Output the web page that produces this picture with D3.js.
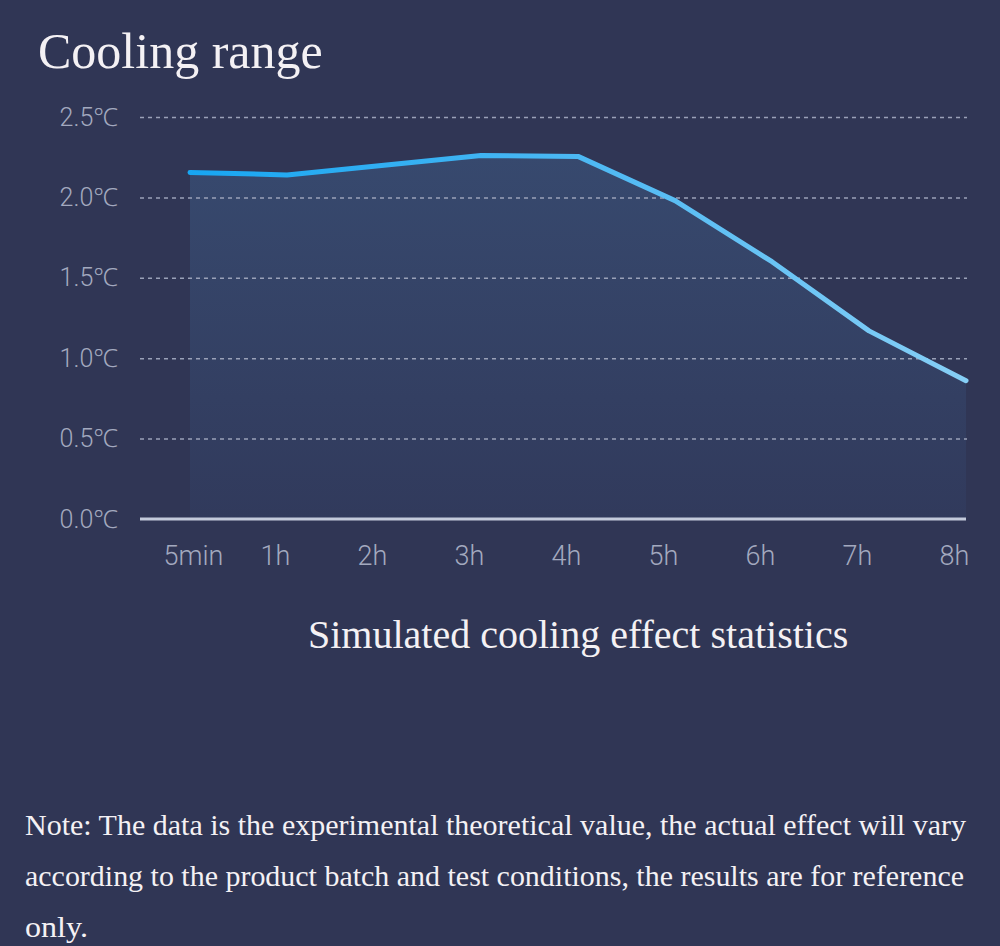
<!DOCTYPE html>
<html lang="en">
  <head>
    <meta charset="UTF-8" />
    <title>Cooling range</title>
    <script src="https://cdn.jsdelivr.net/npm/d3@7"></script>
    <style>
      html, body { margin: 0; padding: 0; background: #303655; }
      svg { display: block; }
    </style>
  </head>
  <body>
    <svg id="chart" width="1000" height="946"></svg>

    <script>
      // chart data
      const timeLabels = ["5min", "1h", "2h", "3h", "4h", "5h", "6h", "7h", "8h"];
      const coolingValues = [2.155, 2.14, 2.2, 2.26, 2.255, 1.98, 1.6, 1.17, 0.86];
      const yTicks = [0, 0.5, 1.0, 1.5, 2.0, 2.5];

      const titleText = "Cooling range";
      const captionText = "Simulated cooling effect statistics";
      const noteLines = [
        "Note: The data is the experimental theoretical value, the actual effect will vary",
        "according to the product batch and test conditions, the results are for reference",
        "only."
      ];

      const svg = d3.select("#chart");

      svg.append("rect")
        .attr("width", 1000).attr("height", 946)
        .attr("fill", "#303655");

      const defs = svg.append("defs");

      // line gets lighter towards the right
      const lineGrad = defs.append("linearGradient")
        .attr("id", "lineGrad")
        .attr("gradientUnits", "userSpaceOnUse")
        .attr("x1", 190).attr("x2", 966).attr("y1", 0).attr("y2", 0);
      lineGrad.append("stop").attr("offset", "0%").attr("stop-color", "#17a6f2");
      lineGrad.append("stop").attr("offset", "50%").attr("stop-color", "#4cb8f3");
      lineGrad.append("stop").attr("offset", "100%").attr("stop-color", "#86cff6");

      const areaGrad = defs.append("linearGradient")
        .attr("id", "areaGrad")
        .attr("x1", 0).attr("x2", 0).attr("y1", 0).attr("y2", 1);
      areaGrad.append("stop").attr("offset", "0%").attr("stop-color", "#37496e");
      areaGrad.append("stop").attr("offset", "100%").attr("stop-color", "#313a5c");

      // scales
      const x = d3.scalePoint()
        .domain(timeLabels)
        .range([190, 966]);

      const y = d3.scaleLinear()
        .domain([0, 2.5])
        .range([519, 117]);

      const data = timeLabels.map((t, i) => ({ t: t, v: coolingValues[i] }));

      // area under the line
      const area = d3.area()
        .x(d => x(d.t))
        .y0(y(0))
        .y1(d => y(d.v));

      svg.append("path")
        .datum(data)
        .attr("d", area)
        .attr("fill", "url(#areaGrad)");

      // y axis: dashed grid lines + labels
      const yAxis = d3.axisLeft(y)
        .tickValues(yTicks)
        .tickSize(-827)
        .tickPadding(22)
        .tickFormat(d => d3.format(".1f")(d) + "\u2103");

      const yg = svg.append("g")
        .attr("transform", "translate(140,0)")
        .call(yAxis);

      yg.select(".domain").remove();
      yg.selectAll(".tick line")
        .attr("stroke", "#9aa1b8")
        .attr("stroke-width", 1.5)
        .attr("stroke-dasharray", "4,4")
        .attr("opacity", d => (d === 0 ? 0 : 1));
      yg.selectAll(".tick text")
        .attr("fill", "#a3a9bf")
        .attr("font-family", "Roboto, 'Noto Sans', sans-serif")
        .attr("font-weight", 300)
        .attr("font-size", 25);

      // base line
      svg.append("line")
        .attr("x1", 140).attr("x2", 966)
        .attr("y1", y(0)).attr("y2", y(0))
        .attr("stroke", "#c3cadb")
        .attr("stroke-width", 3);

      // x axis labels
      const xAxis = d3.axisBottom(x)
        .tickSize(0)
        .tickPadding(27);

      const xg = svg.append("g")
        .attr("transform", `translate(0,${y(0)})`)
        .call(xAxis);
      xg.select(".domain").remove();
      xg.selectAll(".tick text")
        .attr("text-anchor", "start")
        .attr("dx", -27)
        .attr("fill", "#a3a9bf")
        .attr("font-family", "Roboto, 'Noto Sans', sans-serif")
        .attr("font-weight", 300)
        .attr("font-size", 27);

      // the line
      const line = d3.line()
        .x(d => x(d.t))
        .y(d => y(d.v));

      svg.append("path")
        .datum(data)
        .attr("d", line)
        .attr("fill", "none")
        .attr("stroke", "url(#lineGrad)")
        .attr("stroke-width", 5)
        .attr("stroke-linejoin", "round")
        .attr("stroke-linecap", "round");

      // texts
      svg.append("text")
        .attr("x", 38).attr("y", 68)
        .attr("fill", "#f4f1f4")
        .attr("font-family", "'Liberation Serif', 'DejaVu Serif', serif")
        .attr("font-size", 50)
        .text(titleText);

      svg.append("text")
        .attr("x", 308).attr("y", 648)
        .attr("fill", "#f4f1f4")
        .attr("font-family", "'Liberation Serif', 'DejaVu Serif', serif")
        .attr("font-size", 40)
        .text(captionText);

      const noteWidths = [941, 939, 63];
      svg.append("g").selectAll("text")
        .data(noteLines)
        .join("text")
        .attr("x", 25)
        .attr("y", (d, i) => 835 + i * 51)
        .attr("fill", "#f4f1f4")
        .attr("font-family", "'Liberation Serif', 'DejaVu Serif', serif")
        .attr("font-size", 29)
        .attr("textLength", (d, i) => noteWidths[i])
        .attr("lengthAdjust", "spacingAndGlyphs")
        .text(d => d);
    </script>
  </body>
</html>
